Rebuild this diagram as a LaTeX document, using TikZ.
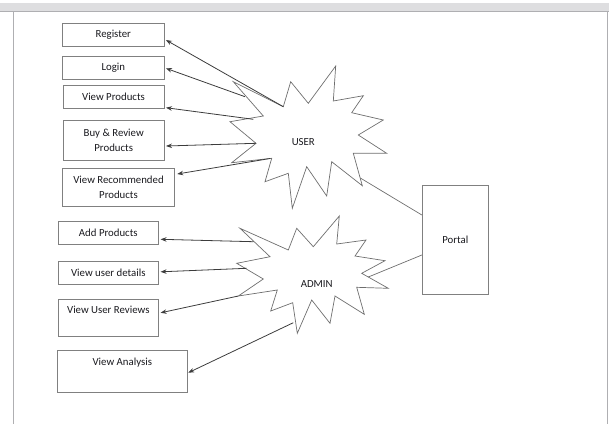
\documentclass[tikz,border=0pt]{standalone}
\usepackage{fontspec}
\setmainfont{Carlito}
\usetikzlibrary{arrows.meta,calc}
\definecolor{boxgray}{RGB}{128,128,128}
\definecolor{linegray}{RGB}{60,60,60}
\definecolor{stargray}{RGB}{110,110,110}
\definecolor{txtgray}{RGB}{25,25,30}
\definecolor{stripgray}{RGB}{222,222,224}
\definecolor{framegray}{RGB}{175,175,178}
\tikzset{
  box/.style={draw=boxgray, line width=0.9pt, inner sep=0pt, text=txtgray, align=center, font=\fontsize{10.8}{15}\selectfont},
  starline/.style={draw=stargray, line width=0.7pt, line join=miter},
  arr/.style={draw=linegray, line width=0.8pt, -{Stealth[length=6pt,width=4.5pt]}},
  link/.style={draw=stargray, line width=0.7pt},
  lbl/.style={text=txtgray, font=\fontsize{10.8}{15}\selectfont}
}
\begin{document}
\begin{tikzpicture}[x=1pt,y=-1pt]
\useasboundingbox (0,0) rectangle (609,424);
% window frame
\fill[stripgray] (0,3) rectangle (609,11);
\draw[framegray, line width=1.2pt] (0,11.5) -- (609,11.5);
\draw[framegray, line width=1pt] (13.5,11.5) -- (13.5,424);
\draw[framegray, line width=1pt] (607.5,11.5) -- (607.5,424);

% boxes
\node[box, minimum width=101.3pt, minimum height=23.4pt] (reg) at (113.3,35) {Register};
\node[box, minimum width=101.3pt, minimum height=22.6pt] (login) at (113.3,68) {Login};
\node[box, minimum width=101pt, minimum height=23.3pt] (vp) at (113.5,96.7) {View Products};
\node[box, minimum width=100.7pt, minimum height=40pt] (buy) at (113.7,140) {Buy \& Review\\Products};
\node[box, minimum width=111.6pt, minimum height=38.4pt] (vrec) at (118.5,187.5) {View Recommended\\Products};
\node[box, minimum width=100pt, minimum height=22.3pt] (addp) at (108.3,232.8) {Add Products};
\node[box, minimum width=100pt, minimum height=22.3pt] (vud) at (108.3,272.8) {View user details};
\node[box, minimum width=100pt, minimum height=37.7pt,
  label={[lbl, anchor=center, yshift=-11pt]north:View User Reviews}] (vur) at (108.3,317.8) {};
\node[box, minimum width=130pt, minimum height=41.6pt,
  label={[lbl, anchor=center, yshift=-12.5pt]north:View Analysis}] (van) at (122.3,371.5) {};
\node[box, minimum width=66pt, minimum height=109.3pt] (portal) at (455.3,239.7) {Portal};

% USER star
\draw[starline] (233.3,81.7) -- (283.3,106.7) -- (290.7,81.7) -- (308.3,103.3) -- (335.7,66) -- (333.3,101)
  -- (363.3,95.7) -- (351.7,112.7) -- (383.3,120) -- (358.3,135) -- (386.7,153.3) -- (353.3,153.3)
  -- (362.3,185.7) -- (331.7,161.7) -- (326.7,196) -- (306.7,166.7) -- (292.3,208.3) -- (288.3,173.3)
  -- (265,181.7) -- (271.7,158.3) -- (231.7,162.7) -- (256,143.3) -- (230,121.7) -- (263.3,116) -- cycle;
\node[lbl] (user) at (303.3,141.7) {USER};

% ADMIN star
\draw[starline] (240,228.3) -- (288.3,250) -- (296.7,228.3) -- (313.3,246.7) -- (339.3,216) -- (336.7,244)
  -- (366,240) -- (355,256) -- (385,260.7) -- (361.7,273.3) -- (388.3,288.3) -- (356.7,287.3)
  -- (364.3,314.3) -- (335,296) -- (330,323.3) -- (311.7,300) -- (297.3,333.3) -- (292.7,302.7)
  -- (270.7,311) -- (277.3,290) -- (238.3,296) -- (263.3,279) -- (236.7,263.3) -- (270,256.7) -- cycle;
\node[lbl] (admin) at (316.7,284.3) {ADMIN};

% connector start points on the stars
\coordinate (u1) at (283.3,106.7);
\coordinate (u2) at (245,96.7);
\coordinate (u3) at (253.3,119.3);
\coordinate (u4) at (256,143.3);
\coordinate (u5) at (270,158.5);
\coordinate (up) at (360.3,178);
\coordinate (a1) at (253.5,241.7);
\coordinate (a2) at (246.7,268.3);
\coordinate (a3) at (238.3,296);
\coordinate (a4) at (293.3,322.7);
\coordinate (ap) at (368.3,277);

% arrows
\draw[arr] (u1) -- ($(reg.east)+(1.5,5)$);
\draw[arr] (u2) -- ($(login.east)+(1.5,0.3)$);
\draw[arr] (u3) -- ($(vp.east)+(1.5,11)$);
\draw[arr] (u4) -- ($(buy.east)+(1.5,6)$);
\draw[arr] (u5) -- ($(vrec.east)+(2.5,-13.5)$);
\draw[arr] (a1) -- ($(addp.east)+(1.8,6.5)$);
\draw[arr] (a2) -- ($(vud.east)+(1.8,-1)$);
\draw[arr] (a3) -- ($(vur.east)+(1.8,-5)$);
\draw[arr] (a4) -- ($(van.east)+(0.5,1.2)$);
\draw[link] (up) -- ($(portal.west)+(0,-24.7)$);
\draw[link] (ap) -- ($(portal.west)+(0,15.3)$);
\end{tikzpicture}
\end{document}
